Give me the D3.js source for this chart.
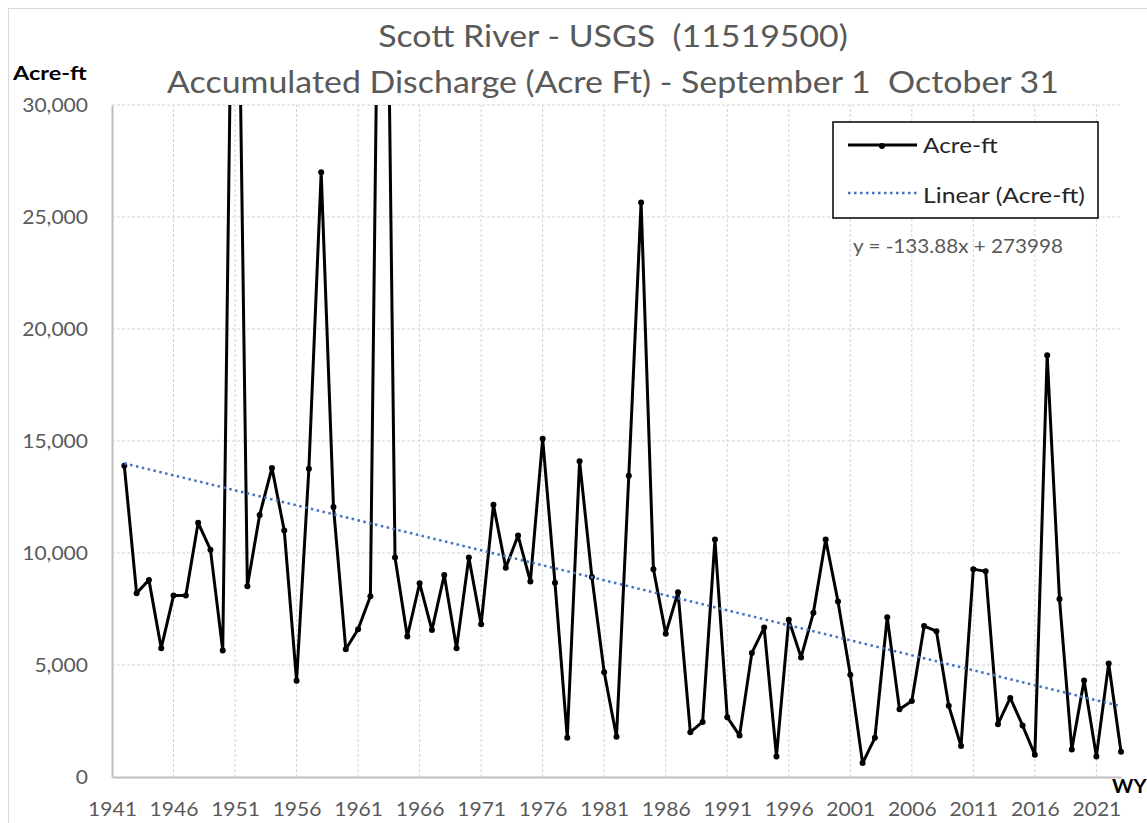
<!DOCTYPE html>
<html>
<head>
<meta charset="utf-8">
<script src="https://cdn.jsdelivr.net/npm/d3@7"></script>
<style>
  body { margin: 0; background: #fff; }
  svg { display: block; font-family: Lato, "Open Sans", sans-serif; }
  text { white-space: pre; }
</style>
</head>
<body>
<div class="container"></div>
<script>
// water years and accumulated discharge, Sep 1 - Oct 31 (acre-ft)
var years = d3.range(1942, 2024);
var acreFt = [
  13900, 8200, 8800, 5750, 8100, 8100, 11350, 10150, 5650, 48000,
  8520, 11700, 13800, 11000, 4300, 13760, 27000, 12050, 5700, 6600,
  8070, 55000, 9800, 6270, 8650, 6560, 9020, 5750, 9800, 6820,
  12150, 9340, 10780, 8730, 15100, 8670, 1750, 14100, 8930, 4680,
  1800, 13450, 25650, 9280, 6400, 8250, 2000, 2460, 10600, 2670,
  1850, 5540, 6670, 920, 7020, 5340, 7330, 10600, 7840, 4560,
  620, 1750, 7130, 3020, 3390, 6740, 6510, 3180, 1380, 9280,
  9180, 2360, 3530, 2300, 990, 18830, 7950, 1230, 4310, 920,
  5070, 1130
];
var yTicks = [0, 5000, 10000, 15000, 20000, 25000, 30000];
var xTicks = d3.range(1941, 2022, 5);

// linear trend as printed on the chart
var trendSlope = -133.88;
var trendIntercept = 273998;

var titleLines = ["Scott River - USGS  (11519500)",
  "Accumulated Discharge (Acre Ft) - September 1  October 31"];

var width = 1147, height = 823;
var margin = { left: 112, right: 26, top: 105, bottom: 46 };

var svg = d3.select(".container").append("svg")
  .attr("width", width)
  .attr("height", height);

// the reference text is a bit wider than Lato, so stretch it sideways
function addText(parent, str, px, py, size, sx) {
  return parent.append("text")
    .attr("transform", "translate(" + px + "," + py + ") scale(" + sx + ",1)")
    .style("font-size", size + "px")
    .text(str);
}

// chart area border
svg.append("rect")
  .attr("x", 8.5).attr("y", 8.5)
  .attr("width", width + 10).attr("height", height + 10)
  .attr("fill", "none")
  .attr("stroke", "#d9d9d9");

var x = d3.scaleLinear().domain([1941, 2023]).range([margin.left, width - margin.right]);
var y = d3.scaleLinear().domain([0, 30000]).range([height - margin.bottom, margin.top]);

// gridlines
svg.append("g")
  .selectAll("line")
  .data(yTicks.slice(1))
  .join("line")
  .attr("x1", x(1941)).attr("x2", x(2023))
  .attr("y1", d => y(d)).attr("y2", d => y(d))
  .attr("stroke", "#d2d2da")
  .attr("stroke-dasharray", "3,2");

svg.append("g")
  .selectAll("line")
  .data(xTicks.slice(1))
  .join("line")
  .attr("x1", d => x(d)).attr("x2", d => x(d))
  .attr("y1", y(0)).attr("y2", y(30000))
  .attr("stroke", "#d2d2da")
  .attr("stroke-dasharray", "3,2");

// axes
var tickScale = 1.08;
var yAxis = svg.append("g")
  .attr("transform", "translate(" + x(1941) + ",0)")
  .call(d3.axisLeft(y).tickValues(yTicks).tickSize(0).tickPadding(24).tickFormat(d3.format(",")));
var xAxis = svg.append("g")
  .attr("transform", "translate(0," + y(0) + ")")
  .call(d3.axisBottom(x).tickValues(xTicks).tickSize(0).tickPadding(25).tickFormat(d3.format("d")));

[yAxis, xAxis].forEach(function (g) {
  g.select(".domain").attr("stroke", "#bfbfbf").attr("stroke-width", 2);
  g.selectAll("text")
    .attr("fill", "#595959")
    .attr("transform", "scale(" + tickScale + ",1)")
    .style("font-size", "19.5px")
    .style("font-family", "Lato, sans-serif");
});
yAxis.selectAll("text").attr("x", -24 / tickScale);

// clip the series to the plot area
svg.append("clipPath").attr("id", "plotClip")
  .append("rect")
  .attr("x", x(1941) - 5).attr("y", y(30000))
  .attr("width", x(2023) - x(1941) + 10).attr("height", y(0) - y(30000) + 5);

var series = svg.append("g").attr("clip-path", "url(#plotClip)");

var line = d3.line()
  .x((d, i) => x(years[i]))
  .y(d => y(d));

series.append("path")
  .datum(acreFt)
  .attr("d", line)
  .attr("fill", "none")
  .attr("stroke", "#000")
  .attr("stroke-width", 3)
  .attr("stroke-linejoin", "round");

series.selectAll("circle")
  .data(acreFt)
  .join("circle")
  .attr("cx", (d, i) => x(years[i]))
  .attr("cy", d => y(d))
  .attr("r", 3)
  .attr("fill", "#000");

// trend line
var trendYears = [years[0], years[years.length - 1]];
svg.append("line")
  .attr("x1", x(trendYears[0])).attr("y1", y(trendSlope * trendYears[0] + trendIntercept))
  .attr("x2", x(trendYears[1])).attr("y2", y(trendSlope * trendYears[1] + trendIntercept))
  .attr("stroke", "#4472c4")
  .attr("stroke-width", 2.5)
  .attr("stroke-dasharray", "2.5,3.5");

// titles
titleLines.forEach(function (t, i) {
  addText(svg, t, 613, 46.5 + i * 46, 30, 1.13)
    .attr("text-anchor", "middle")
    .attr("fill", "#595959");
});

addText(svg, "Acre-ft", 13, 79.5, 18.5, 1.27)
  .attr("font-weight", "bold");

addText(svg, "WY", 1112, 793, 18.5, 1.1)
  .attr("font-weight", "bold");

// legend
var legend = svg.append("g");
legend.append("rect")
  .attr("x", 833).attr("y", 122)
  .attr("width", 265).attr("height", 96)
  .attr("fill", "#fff")
  .attr("stroke", "#000")
  .attr("stroke-width", 1.5);
legend.append("line")
  .attr("x1", 848).attr("x2", 917).attr("y1", 145).attr("y2", 145)
  .attr("stroke", "#000").attr("stroke-width", 3);
legend.append("circle")
  .attr("cx", 882).attr("cy", 146).attr("r", 3).attr("fill", "#000");
legend.append("line")
  .attr("x1", 848).attr("x2", 917).attr("y1", 193).attr("y2", 193)
  .attr("stroke", "#4472c4").attr("stroke-width", 2.5)
  .attr("stroke-dasharray", "2.5,3.5");
addText(legend, "Acre-ft", 923, 152.5, 21, 1.16).attr("fill", "#262626");
addText(legend, "Linear (Acre-ft)", 923, 203, 21, 1.18).attr("fill", "#262626");

addText(svg, "y = " + trendSlope + "x + " + trendIntercept, 853, 252.5, 19.5, 1.06)
  .attr("fill", "#595959");
</script>
</body>
</html>
